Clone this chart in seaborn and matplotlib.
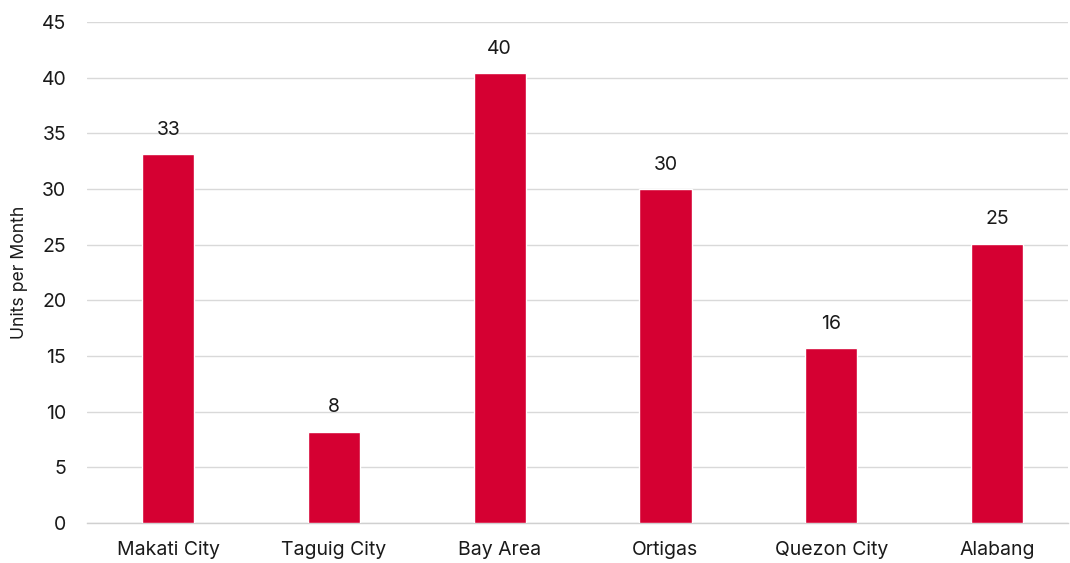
import matplotlib
matplotlib.use("Agg")
import matplotlib.pyplot as plt
import seaborn as sns
import pandas as pd

# Monthly units by location
locations = ["Makati City", "Taguig City", "Bay Area", "Ortigas", "Quezon City", "Alabang"]
units = [33.1, 8.2, 40.4, 30.0, 15.7, 25.1]
y_ticks = [0, 5, 10, 15, 20, 25, 30, 35, 40, 45]

df = pd.DataFrame({"Location": locations, "Units": units})

sns.set_theme(style="white")
plt.rcParams["font.family"] = ["Inter", "DejaVu Sans"]

fig = plt.figure(figsize=(10.7, 5.63), dpi=100)
ax = fig.add_axes([0.0813, 0.071, 0.917, 0.890])

sns.barplot(data=df, x="Location", y="Units", color="#D50032",
            saturation=1, width=0.315, ax=ax, zorder=3)

for x, v in enumerate(units):
    ax.annotate(f"{v:.0f}", (x, v), xytext=(0, 11), textcoords="offset points",
                ha="center", va="bottom", fontsize=14, color="#1a1a1a")

ax.set_ylim(0, 45)
ax.set_yticks(y_ticks)
ax.set_yticklabels([str(t) for t in y_ticks])
ax.set_xlim(-0.49, len(locations) - 0.57)
ax.yaxis.grid(True, color="#d9d9d9", linewidth=1.0, zorder=0)
ax.set_axisbelow(True)

for side in ["top", "right", "left"]:
    ax.spines[side].set_visible(False)
ax.spines["bottom"].set_color("#d0d0d0")
ax.spines["bottom"].set_linewidth(1.0)

ax.tick_params(axis="both", length=0, labelsize=14, colors="#1a1a1a")
ax.tick_params(axis="y", pad=15)
ax.tick_params(axis="x", pad=13)
ax.set_xlabel("")
ax.set_ylabel("Units per Month", fontsize=12.7, color="#1a1a1a", labelpad=10)

fig.savefig("out.png", dpi=100)
